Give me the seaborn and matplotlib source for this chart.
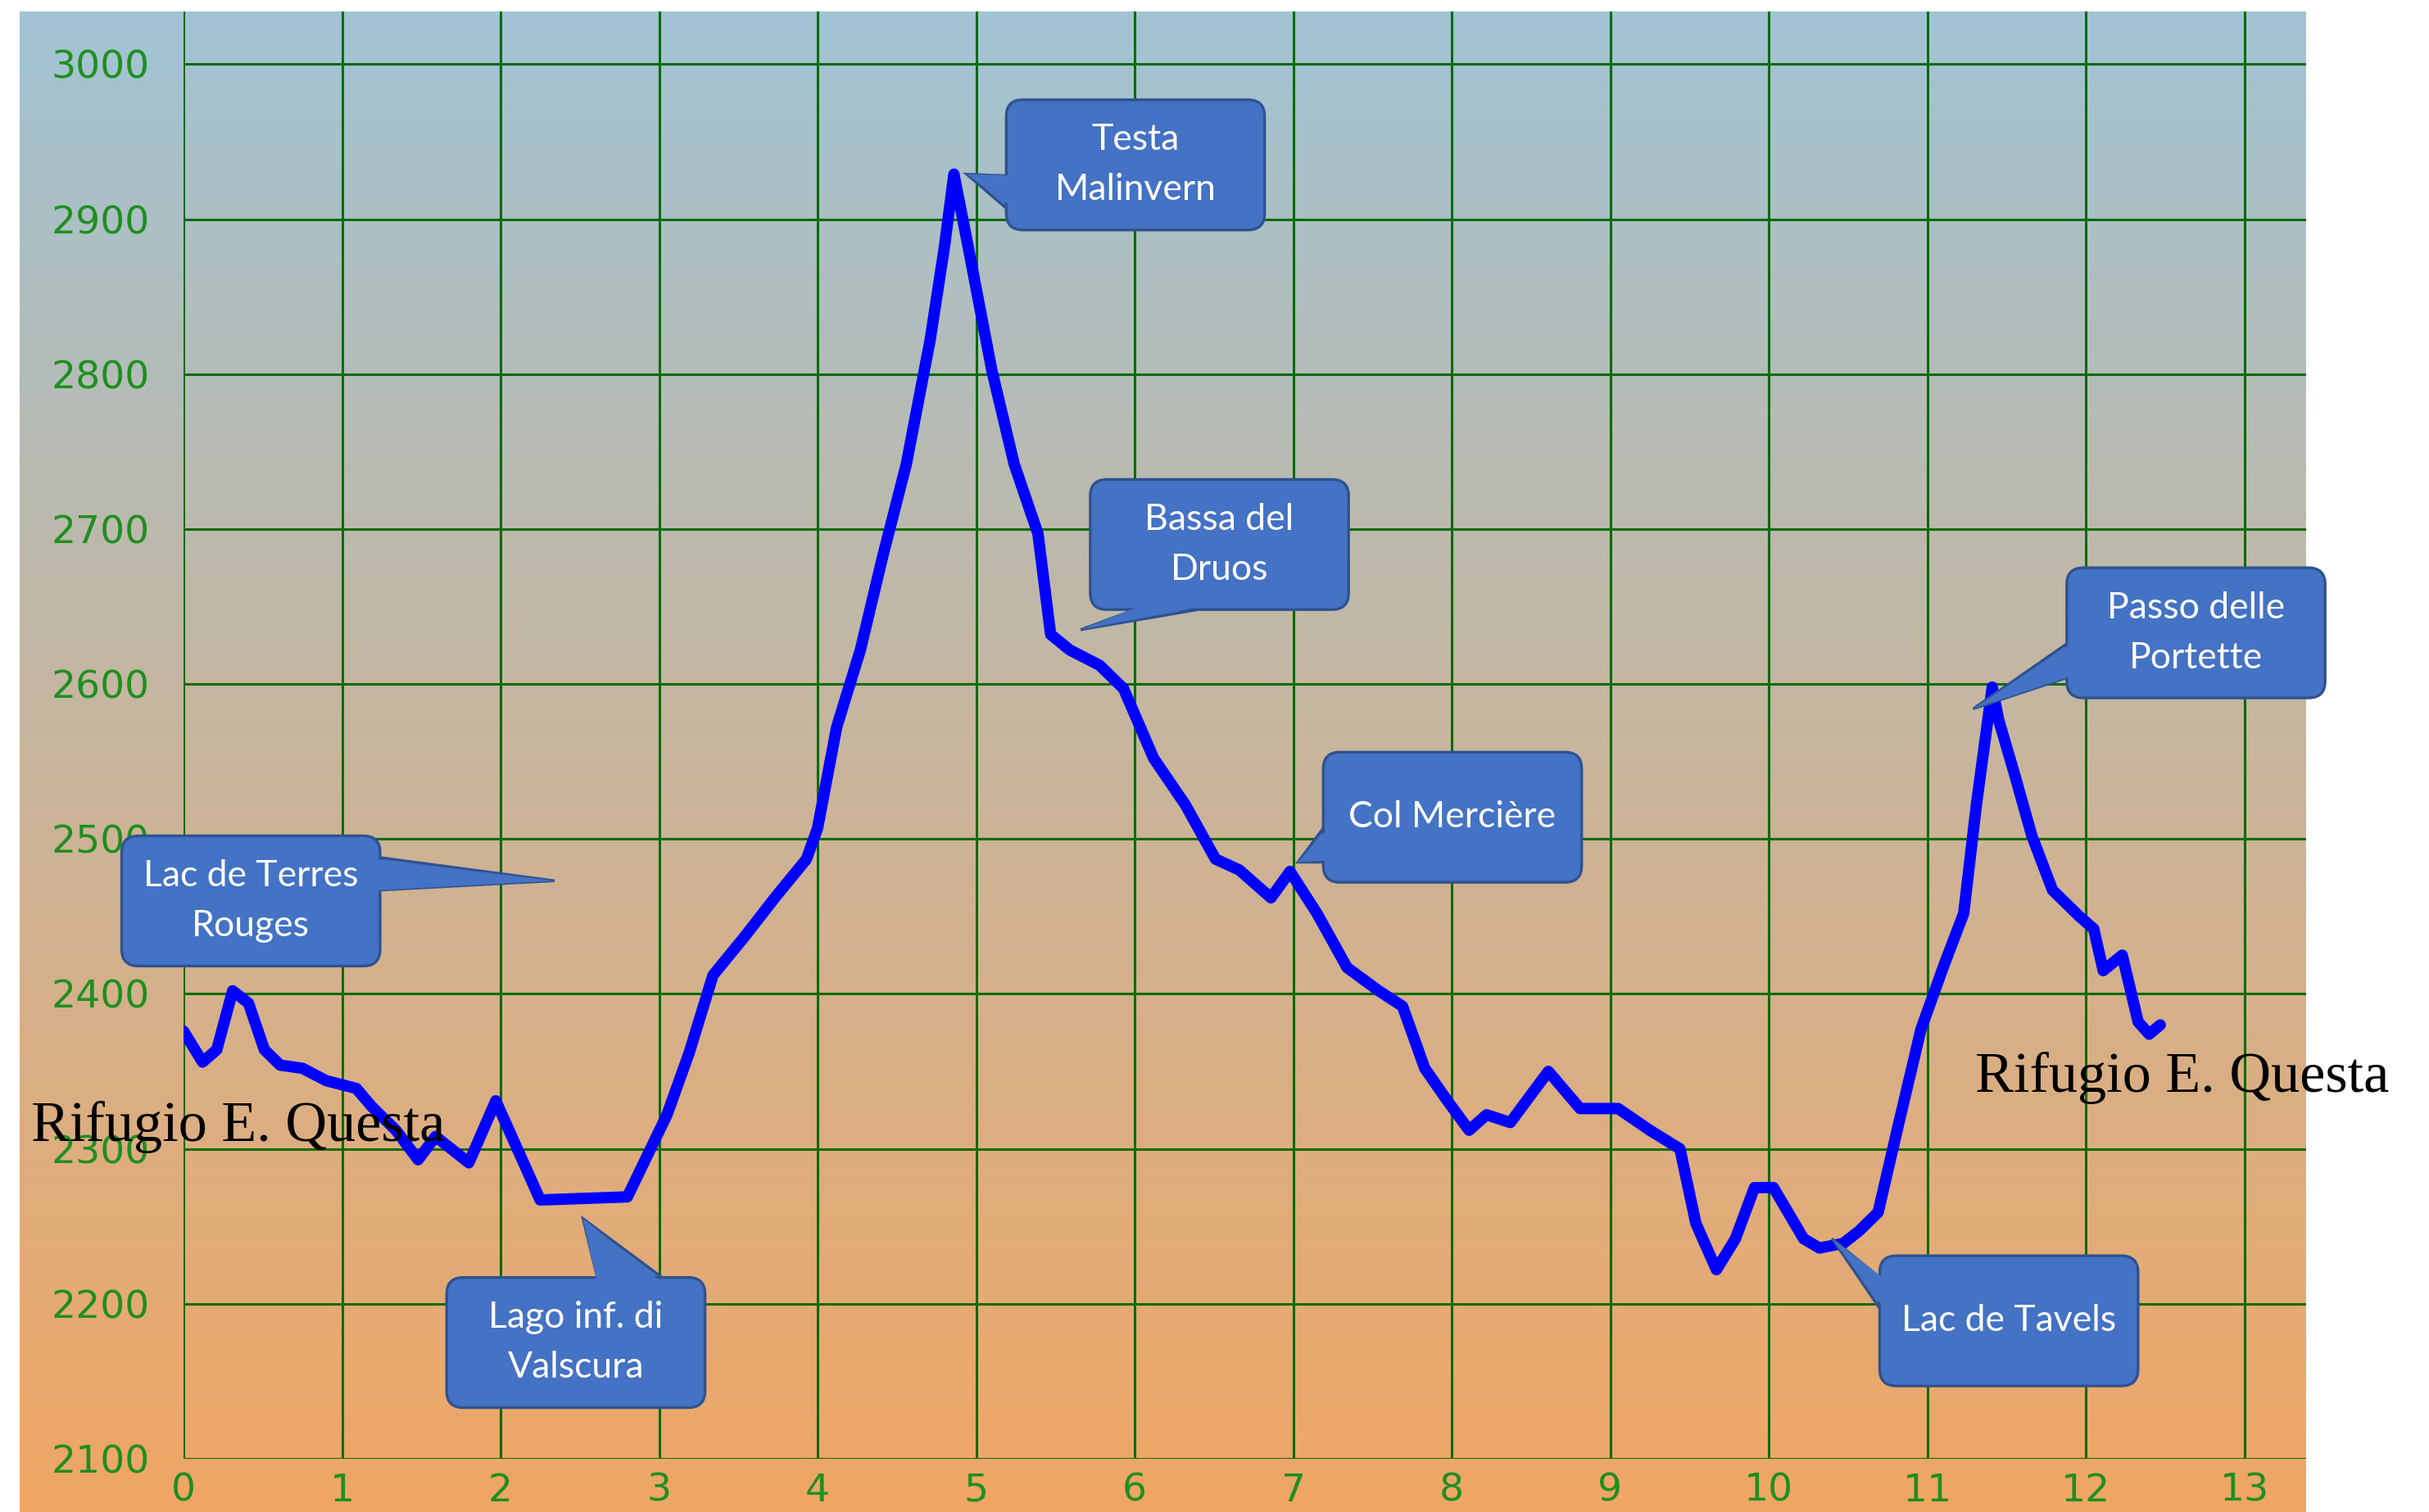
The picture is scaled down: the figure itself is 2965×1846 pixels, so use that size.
import numpy as np
import pandas as pd
import matplotlib
matplotlib.use('Agg')
import matplotlib.pyplot as plt
from matplotlib.patches import FancyBboxPatch, Polygon
import seaborn as sns

# profilo altimetrico (km, m)
dist = [0.00, 0.12, 0.21, 0.31, 0.41, 0.51, 0.61, 0.75, 0.90, 1.09,
        1.19, 1.34, 1.48, 1.59, 1.80, 1.97, 2.25, 2.80, 3.05, 3.19,
        3.34, 3.54, 3.73, 3.93, 4.00, 4.12, 4.27, 4.41, 4.56, 4.71,
        4.80, 4.86, 4.95, 5.10, 5.24, 5.34, 5.39, 5.47, 5.59, 5.78,
        5.93, 6.12, 6.32, 6.51, 6.66, 6.86, 6.98, 7.15, 7.34, 7.54,
        7.69, 7.83, 7.98, 8.11, 8.22, 8.37, 8.61, 8.81, 9.05, 9.25,
        9.44, 9.54, 9.67, 9.79, 9.91, 10.03, 10.22, 10.32, 10.47, 10.57,
        10.69, 10.81, 10.96, 11.10, 11.23, 11.31, 11.41, 11.45, 11.55, 11.66,
        11.79, 11.96, 12.05, 12.11, 12.23, 12.33, 12.40, 12.47]
elev = [2376, 2356, 2364, 2402, 2394, 2364, 2354, 2352, 2344, 2339,
        2327, 2312, 2293, 2308, 2291, 2331, 2267, 2269, 2322, 2362,
        2412, 2437, 2462, 2487, 2507, 2572, 2622, 2682, 2742, 2822,
        2882, 2929, 2882, 2802, 2742, 2712, 2697, 2632, 2622, 2612,
        2597, 2552, 2522, 2487, 2480, 2462, 2479, 2452, 2417, 2402,
        2392, 2352, 2330, 2312, 2322, 2317, 2350, 2326, 2326, 2312,
        2300, 2252, 2222, 2242, 2275, 2275, 2242, 2236, 2239, 2247,
        2259, 2312, 2377, 2417, 2452, 2522, 2598, 2577, 2542, 2502,
        2467, 2450, 2442, 2415, 2425, 2382, 2374, 2380]

x_ticks = list(range(0, 14))
y_ticks = list(range(2100, 3001, 100))

endpoint_label = 'Rifugio E. Questa'

# callout: testo, box (x0, y0, w, h), base1, base2, punta
callouts = [
    ('Lac de Terres\nRouges', (-0.39, 2418, 1.63, 84), (1.24, 2488), (1.24, 2467), (2.34, 2473)),
    ('Lago inf. di\nValscura', (1.66, 2133, 1.63, 84), (2.61, 2217), (3.02, 2217), (2.52, 2255)),
    ('Testa\nMalinvern', (5.19, 2893, 1.63, 84), (5.19, 2928), (5.19, 2907), (4.94, 2929)),
    ('Bassa del\nDruos', (5.72, 2648, 1.63, 84), (6.00, 2648), (6.40, 2648), (5.66, 2635)),
    ('Col Mercière', (7.19, 2472, 1.63, 84), (7.19, 2507), (7.19, 2485), (7.03, 2485)),
    ('Lac de Tavels', (10.70, 2147, 1.63, 84), (10.70, 2217), (10.70, 2197), (10.40, 2242)),
    ('Passo delle\nPortette', (11.88, 2591, 1.63, 84), (11.88, 2626), (11.88, 2604), (11.29, 2584)),
]

df = pd.DataFrame({'km': dist, 'quota': elev})

sns.set_theme(style='whitegrid')
plt.rcParams['font.family'] = ['DejaVu Sans']

fig = plt.figure(figsize=(14.825, 9.23), dpi=200)
fig.patch.set_facecolor('white')

# sfondo sfumato azzurro -> arancio
bg = fig.add_axes([24 / 2965, 0, (2815 - 24) / 2965, 1 - 14 / 1846], zorder=0)
top = np.array([161, 196, 212]) / 255
bot = np.array([240, 166, 100]) / 255
t = np.linspace(0, 1, 256)[:, None]
grad = (top[None, :] * (1 - t) + bot[None, :] * t)[:, None, :]
bg.imshow(grad, aspect='auto', extent=[0, 1, 0, 1])
bg.axis('off')

ax = fig.add_axes([224 / 2965, 1 - 1781 / 1846, (2815 - 224) / 2965, (1781 - 14) / 1846], zorder=1)
ax.patch.set_alpha(0)

sns.lineplot(data=df, x='km', y='quota', color='#0000ff', lw=5, ax=ax, zorder=4)

ax.set_xlim(0, 13.39)
ax.set_ylim(2100, 3034)
ax.set_xticks(x_ticks)
ax.set_yticks(y_ticks)
ax.set_xlabel('')
ax.set_ylabel('')
for s in ax.spines.values():
    s.set_visible(False)
ax.grid(True, color='#0b6b0b', lw=1.1)
ax.set_axisbelow(True)
ax.tick_params(axis='both', length=0, labelcolor='#1f8f1f', labelsize=17)
ax.tick_params(axis='y', pad=15)
ax.tick_params(axis='x', pad=6)

fc = '#4472c4'
ec = '#2f528f'
for text, (x0, y0, w, h), b1, b2, tip in callouts:
    ax.add_patch(Polygon([b1, tip, b2], closed=True, fc=fc, ec=ec, lw=1.2,
                         zorder=5, clip_on=False))
    ax.add_patch(FancyBboxPatch((x0, y0), w, h,
                                boxstyle='round,pad=0,rounding_size=0.105',
                                mutation_aspect=102.3, fc=fc, ec=ec, lw=1.2,
                                zorder=6, clip_on=False))
    cx, cy = x0 + w / 2, y0 + h / 2
    b1i = (b1[0] + 0.04 * (cx - b1[0]), b1[1] + 0.04 * (cy - b1[1]))
    b2i = (b2[0] + 0.04 * (cx - b2[0]), b2[1] + 0.04 * (cy - b2[1]))
    ax.add_patch(Polygon([b1i, tip, b2i], closed=True, fc=fc, ec='none',
                         zorder=7, clip_on=False))
    ax.text(cx, cy, text, ha='center', va='center', color='white',
            family=['Lato', 'DejaVu Sans'], fontsize=16, linespacing=1.6,
            zorder=8, clip_on=False)

ax.text(-0.96, 2305, endpoint_label, ha='left', va='baseline', color='black',
        family=['Liberation Serif', 'DejaVu Serif'], fontsize=25.3, zorder=9, clip_on=False)
ax.text(11.30, 2337, endpoint_label, ha='left', va='baseline', color='black',
        family=['Liberation Serif', 'DejaVu Serif'], fontsize=25.3, zorder=9, clip_on=False)

fig.savefig('out.png', dpi=200)
